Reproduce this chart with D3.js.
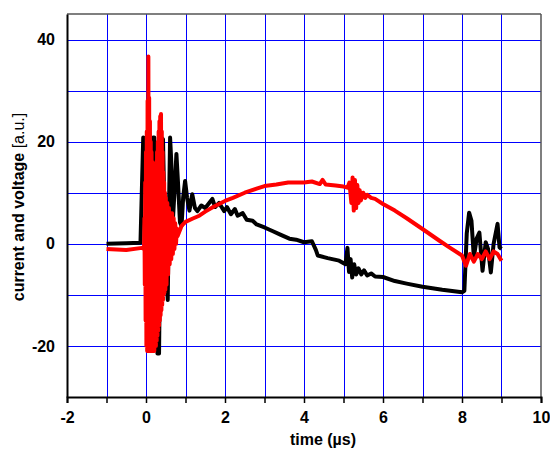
<!DOCTYPE html>
<html>
<head>
<meta charset="utf-8">
<script src="https://cdn.jsdelivr.net/npm/d3@7"></script>
<style>
  body { margin: 0; background: #fff; }
  text { font-family: Arial, "Liberation Sans", sans-serif; }
</style>
</head>
<body>
<div id="chart"></div>
<script>
// time axis ticks and value ticks
var xTicks = [-2, 0, 2, 4, 6, 8, 10];
var yTicks = [-20, 0, 20, 40];

// current (black) - time in us, value in a.u.
var curT = [-1.0, -0.5, -0.14, -0.1, -0.07, -0.04, -0.02, 0.0, 0.03, 0.06, 0.09, 0.12, 0.15, 0.18, 0.21, 0.25, 0.29, 0.33, 0.36, 0.39,
  0.43, 0.47, 0.51, 0.55, 0.58, 0.61, 0.64, 0.68, 0.72, 0.77, 0.81, 0.86, 0.9, 0.94, 0.99, 1.04, 1.1, 1.17, 1.24, 1.3,
  1.4, 1.5, 1.6, 1.68, 1.75, 1.85, 1.98, 2.05, 2.15, 2.25, 2.32, 2.45, 2.55, 2.7, 2.8, 3.0, 3.2, 3.4, 3.63, 3.8,
  4.0, 4.2, 4.3, 4.35, 4.6, 4.89, 5.05, 5.1, 5.14, 5.18, 5.22, 5.27, 5.32, 5.38, 5.45, 5.52, 5.6, 5.7, 5.8, 6.0,
  6.3, 6.6, 7.0, 7.5, 8.0, 8.06, 8.12, 8.18, 8.24, 8.3, 8.37, 8.44, 8.52, 8.6, 8.66, 8.73, 8.8, 8.9, 8.95, 9.0];
var curV = [0, 0.1, 0.2, 12, 20.8, 20.5, 12, 20.8, 8, 20.8, 5, 20.5, 3, 20.8, 20.8, 0, -21.5, -21.5, 0, 20.8,
  20.5, 5, -4, -11, 6, 20.8, 16, 4.5, 10, 17.6, 12, 4.2, 3.5, 9, 12.3, 9, 6.5, 9.7, 7, 6.4,
  7.5, 7, 8, 8.8, 7.2, 8, 6.4, 7.2, 5.8, 6.8, 5.5, 6, 4.7, 4.5, 3.8, 3.2, 2.5, 1.8, 1, 0.8,
  0.3, 0.5, -1.2, -2.3, -2.8, -3.3, -4, -0.8, -5.5, -3, -6.6, -4, -6, -4.8, -6, -5.2, -6.2, -5.8, -6.4, -6.5,
  -7.3, -7.8, -8.4, -9, -9.5, -9.2, 2, 6.1, 4.5, -2.7, 1, 2.2, -5.3, 0.3, -1, -5.6, 0, 3.9, -0.7, -1];

// voltage (red)
var voltT = [-1.0, -0.5, -0.1, -0.05, -0.04, -0.03, -0.02, -0.01, 0.0, 0.01, 0.02, 0.03, 0.04, 0.05, 0.06, 0.07, 0.08, 0.09, 0.10, 0.11,
  0.12, 0.13, 0.14, 0.15, 0.16, 0.17, 0.18, 0.19, 0.20, 0.21, 0.22, 0.23, 0.24, 0.25, 0.26, 0.27, 0.28, 0.29, 0.30, 0.31,
  0.32, 0.33, 0.34, 0.35, 0.36, 0.37, 0.38, 0.39, 0.40, 0.41, 0.42, 0.43, 0.44, 0.45, 0.46, 0.47, 0.48, 0.49, 0.50, 0.52,
  0.54, 0.56, 0.58, 0.60, 0.62, 0.64, 0.66, 0.68, 0.70, 0.72, 0.74, 0.76, 0.78, 0.80, 0.85, 0.9, 1.0, 1.2, 1.35, 1.5,
  1.7, 2.0, 2.2, 2.5, 2.8, 3.0, 3.3, 3.6, 4.0, 4.2, 4.4, 4.47, 4.55, 4.8, 5.0, 5.1, 5.15, 5.2, 5.23, 5.26,
  5.29, 5.32, 5.35, 5.38, 5.41, 5.44, 5.5, 5.55, 5.6, 5.7, 5.8, 6.0, 6.3, 6.6, 7.0, 7.43, 7.7, 8.0, 8.1, 8.2,
  8.3, 8.4, 8.5, 8.6, 8.7, 8.8, 8.9, 9.0];
var voltV = [-1, -1.2, -0.8, -1, 5, -8, 12, -15, 18, -20, 22, -21, 28, -21, 36.7, -21, 28.6, -21, 24, -21,
  20, -21, 18, -21, 16, -21, 15, -21, 14, -21, 14, -20, 15, -20, 16, -19, 18, -18, 20, -17,
  22, -16, 24, -15, 25, -14, 25.4, -13, 22, -12, 18, -11, 14, -10, 12, -9.5, 10, -9, 9, -8,
  8, -6, 7, -4, 6, -3, 6, -2, 5, -1, 4, 0, 3, 1.5, 2.5, 3.5, 4.3, 5, 5.5, 6.3,
  7.2, 8.4, 9, 10, 10.8, 11.3, 11.6, 12, 12, 12.2, 11.7, 12.5, 11.6, 11.4, 11.2, 11, 12, 8, 13, 6.5,
  12.5, 7, 11.5, 8, 10.5, 8.5, 10, 9, 9.6, 9, 8.8, 7.8, 6.5, 5, 2.9, 0.6, -0.8, -2.3, -4.3, -2,
  -3.5, -2, -3, -1.5, -3, -1.5, -2, -3.3];

var width = 550, height = 450;
var margin = {left: 67, right: 9, top: 14, bottom: 53};

var svg = d3.select("#chart").append("svg")
  .attr("width", width)
  .attr("height", height);

var x = d3.scaleLinear().domain([-2, 10]).range([margin.left, width - margin.right]);
var y = d3.scaleLinear().domain([-30, 45]).range([height - margin.bottom, margin.top]);

// grid
var g = svg.append("g");
g.selectAll(".vg").data(d3.range(-1, 10)).enter().append("line")
  .attr("x1", function(d) { return Math.round(x(d)) + 0.5; })
  .attr("x2", function(d) { return Math.round(x(d)) + 0.5; })
  .attr("y1", y(45)).attr("y2", y(-30))
  .attr("stroke", "#0000ff").attr("stroke-width", 1);
g.selectAll(".hg").data(d3.range(-20, 41, 10)).enter().append("line")
  .attr("y1", function(d) { return Math.round(y(d)) + 0.5; })
  .attr("y2", function(d) { return Math.round(y(d)) + 0.5; })
  .attr("x1", x(-2)).attr("x2", x(10))
  .attr("stroke", "#0000ff").attr("stroke-width", 1);

// frame top & right
svg.append("line").attr("x1", x(-2)).attr("x2", x(10)).attr("y1", y(45)).attr("y2", y(45))
  .attr("stroke", "#555").attr("stroke-width", 1.5);
svg.append("line").attr("x1", x(10)).attr("x2", x(10)).attr("y1", y(45)).attr("y2", y(-30))
  .attr("stroke", "#555").attr("stroke-width", 1.5);

// lines
var curData = curT.map(function(t, i) { return [t, curV[i]]; });
var voltData = voltT.map(function(t, i) { return [t, voltV[i]]; });
var line = d3.line().x(function(d) { return x(d[0]); }).y(function(d) { return y(d[1]); });

svg.append("path").datum(curData).attr("d", line)
  .attr("fill", "none").attr("stroke", "#000").attr("stroke-width", 4)
  .attr("stroke-linejoin", "round");
svg.append("path").datum(voltData).attr("d", line)
  .attr("fill", "none").attr("stroke", "#ff0000").attr("stroke-width", 4)
  .attr("stroke-linejoin", "round");

// axes
var xAxis = d3.axisBottom(x).tickValues(d3.range(-2, 11, 1)).tickSize(6)
  .tickFormat(function(d) { return xTicks.indexOf(d) >= 0 ? String(d) : ""; });
var xg = svg.append("g").attr("transform", "translate(0," + y(-30) + ")").call(xAxis);
xg.select(".domain").attr("stroke-width", 2);
xg.selectAll(".tick line").attr("stroke-width", 1.5);
xg.selectAll("text").attr("font-size", 16).attr("font-weight", "bold").attr("dy", "1.05em")
  .attr("font-family", "Arial, 'Liberation Sans', sans-serif").attr("fill", "#000");

var yAxis = d3.axisLeft(y).tickValues(yTicks).tickSize(0).tickPadding(12)
  .tickFormat(function(d) { return String(d); });
var yg = svg.append("g").attr("transform", "translate(" + x(-2) + ",0)").call(yAxis);
yg.select(".domain").attr("stroke-width", 2);
yg.selectAll("text").attr("font-size", 16).attr("font-weight", "bold")
  .attr("font-family", "Arial, 'Liberation Sans', sans-serif").attr("fill", "#000");

// axis labels
svg.append("text").attr("x", 323).attr("y", 445).attr("text-anchor", "middle")
  .attr("font-size", 16).attr("font-weight", "bold").text("time (\u00b5s)");

var yl = svg.append("text").attr("transform", "translate(24,207) rotate(-90)")
  .attr("text-anchor", "middle").attr("font-size", 16);
yl.append("tspan").attr("font-weight", "bold").text("current and voltage ");
yl.append("tspan").text("[a.u.]");
</script>
</body>
</html>
